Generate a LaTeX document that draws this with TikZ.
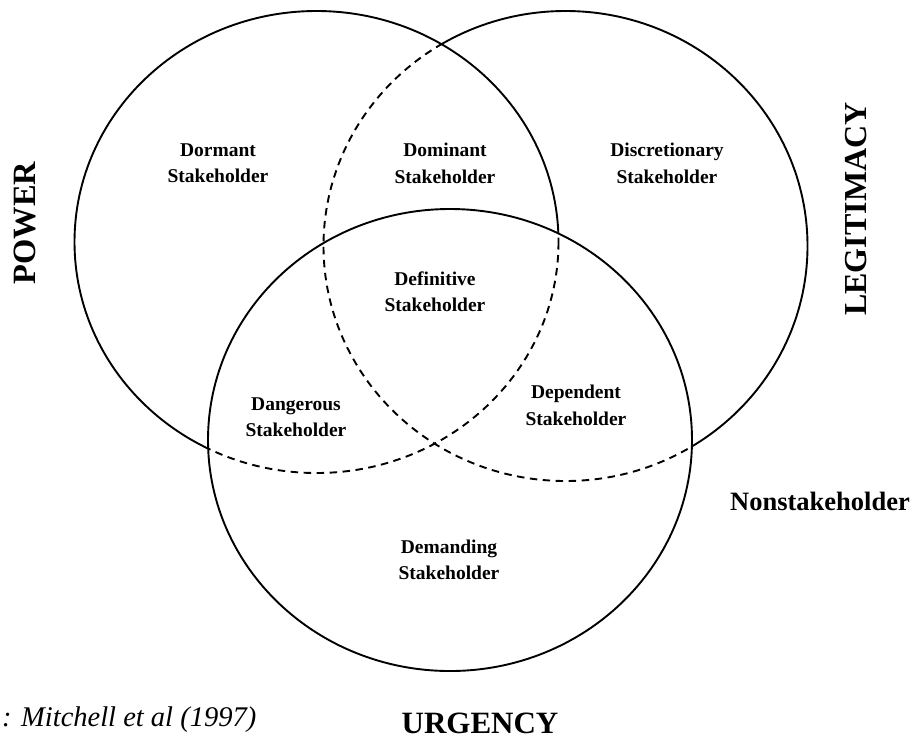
\documentclass[tikz,border=0pt]{standalone}
\usepackage{fontspec}
\setmainfont{Liberation Serif}
\begin{document}
\begin{tikzpicture}[x=1pt,y=-1pt,
  ring/.style={line width=1.9pt},
  hidden/.style={line width=1.9pt, dash pattern=on 7.5pt off 5.5pt},
  powell/.style={x radius=242, y radius=231},
  legell/.style={x radius=242, y radius=235},
  urgell/.style={x radius=242, y radius=231},
  region/.style={align=center, inner sep=0pt,
    font=\bfseries\fontsize{19.5}{26.5}\selectfont},
  axislabel/.style={inner sep=0pt, font=\bfseries\fontsize{32.5}{36}\selectfont}]
\useasboundingbox (0,0) rectangle (912,740);

% centres of the three attribute sets
\coordinate (P) at (316.5,242);
\coordinate (L) at (565.5,246);
\coordinate (U) at (450,440);

% Urgency: drawn in full
\draw[ring] (U) ellipse[urgell];

% Power: dashed where it runs inside Urgency
\begin{scope}
  \clip (U) ellipse[urgell];
  \draw[hidden] (P) ellipse[powell];
\end{scope}
\begin{scope}[even odd rule]
  \clip (0,0) rectangle (912,740) (U) ellipse[urgell];
  \draw[ring] (P) ellipse[powell];
\end{scope}

% Legitimacy: dashed where it runs inside Power or Urgency
\begin{scope}
  \clip (P) ellipse[powell] (U) ellipse[urgell];
  \draw[hidden] (L) ellipse[legell];
\end{scope}
\begin{scope}[even odd rule]
  \clip (0,0) rectangle (912,740) (P) ellipse[powell];
  \clip (0,0) rectangle (912,740) (U) ellipse[urgell];
  \draw[ring] (L) ellipse[legell];
\end{scope}

% stakeholder classes
\node[region] (dormant)       at (218,163)   {Dormant\\Stakeholder};
\node[region] (dominant)      at (445,163.5) {Dominant\\Stakeholder};
\node[region] (discretionary) at (667,163.5) {Discretionary\\Stakeholder};
\node[region] (definitive)    at (435,291.5) {Definitive\\Stakeholder};
\node[region] (dangerous)     at (296,417)   {Dangerous\\Stakeholder};
\node[region] (dependent)     at (576,405.5) {Dependent\\Stakeholder};
\node[region] (demanding)     at (449,560)   {Demanding\\Stakeholder};

% attribute names
\node[axislabel, rotate=90] (power) at (25,223) {POWER};
\node[axislabel, rotate=90, font=\bfseries\fontsize{32}{36}\selectfont] (legitimacy) at (856,209) {LEGITIMACY};
\node[anchor=base, inner sep=0pt, font=\bfseries\fontsize{31}{34}\selectfont] (urgency) at (480,733.5) {URGENCY};
\node[anchor=base, inner sep=0pt, font=\bfseries\fontsize{26.5}{30}\selectfont] (nonstake) at (820,510) {Nonstakeholder};

% source line
\node[anchor=base west, inner sep=0pt, font=\itshape\fontsize{28.5}{32}\selectfont] (source) at (2,726) {: Mitchell et al (1997)};
\end{tikzpicture}
\end{document}
